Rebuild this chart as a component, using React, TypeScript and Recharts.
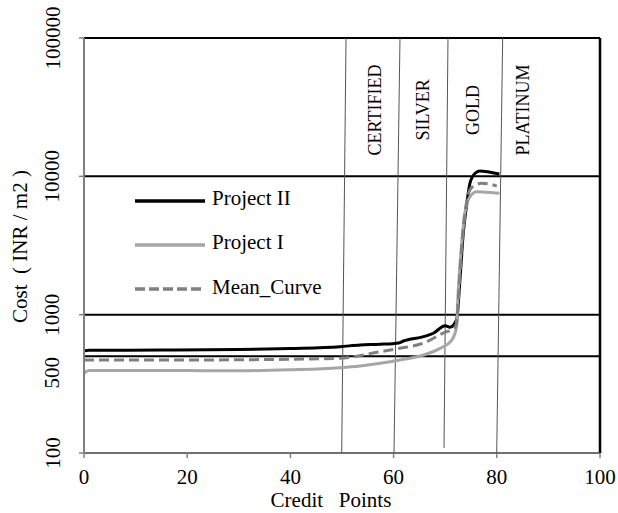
import { LineChart, Line, XAxis, YAxis, ReferenceLine, ReferenceDot, Legend, Label } from "recharts";

const SERIF = '"Liberation Serif", "Times New Roman", serif';

// credit points / cost readings per curve
const projectIIX = [0, 1, 15, 30, 40, 49.6, 53.5, 57.4, 61, 61.9, 65.8, 67.7, 70, 70.9, 72.2, 72.9, 73.5, 74.2, 74.8, 75.8, 76.7, 78.7, 80.5];
const projectIIY = [548, 553, 555, 560, 570, 587, 604, 611, 625, 645, 694, 734, 833, 811, 916, 1883, 3878, 6390, 8913, 10530, 10940, 10700, 10410];

const projectIX = [0, 1, 10, 20, 30, 40, 49.6, 53.5, 57.4, 61.2, 65.8, 69, 71.3, 71.9, 72.2, 72.5, 73.2, 73.8, 74.8, 76.1, 78, 80.5];
const projectIY = [377, 394, 395, 394, 393, 400, 414, 426, 445, 470, 511, 571, 656, 734, 819, 1428, 3283, 5410, 7130, 7750, 7670, 7550];

const meanX = [0, 10, 20, 30, 40, 49.6, 57.4, 61.2, 65.7, 70.3, 71.3, 72.2, 72.7, 73.3, 74, 74.8, 76, 77, 78.5, 80];
const meanY = [470, 470, 470, 472, 476, 484, 540, 571, 621, 754, 775, 860, 1600, 3500, 6000, 8000, 8700, 8900, 8800, 8500];

const X_TICKS = [0, 20, 40, 60, 80, 100];
const Y_TICKS = [100, 500, 1000, 10000, 100000];
const H_LINES = [500, 1000, 10000, 100000];

// rating bands (slightly slanted hand-drawn dividers)
const DIVIDERS = [
  { x0: 49.94, x1: 50.78, y0: 100 },
  { x0: 60.08, x1: 61.24, y0: 100 },
  { x0: 69.77, x1: 70.54, y0: 108.7 },
  { x0: 79.98, x1: 81.14, y0: 100 },
];
const LEVELS = [
  { name: "CERTIFIED", x: 56.4 },
  { name: "SILVER", x: 65.7 },
  { name: "GOLD", x: 75.4 },
  { name: "PLATINUM", x: 85.1 },
];
const LEVEL_Y = 30200;

const LEGEND_ITEMS = [
  { name: "Project II", color: "#000000", width: 3.5, dash: undefined },
  { name: "Project I", color: "#a6a6a6", width: 3.5, dash: undefined },
  { name: "Mean_Curve", color: "#808080", width: 3.5, dash: "10 4" },
];

const toPoints = (xs: number[], ys: number[]) => xs.map((x, i) => ({ x, y: ys[i] }));

function YTick(props: any) {
  const { x, y, payload } = props;
  const v = payload.value;
  const ty = v === 500 ? y + 16.5 : y;
  const tx = x - 26.5;
  return (
    <g>
      {v !== 500 && <line x1={x} x2={x + 5} y1={y} y2={y} stroke="#808080" strokeWidth={1.5} />}
      <text
        x={tx}
        y={ty}
        transform={`rotate(-90, ${tx}, ${ty})`}
        textAnchor="middle"
        dominantBaseline="central"
        fontSize={21}
        fontFamily={SERIF}
        fill="#000"
      >
        {v}
      </text>
    </g>
  );
}

function XTick(props: any) {
  const { x, y, payload } = props;
  return (
    <g>
      <line x1={x} x2={x} y1={y - 5} y2={y} stroke="#808080" strokeWidth={1.5} />
      <text x={x} y={y + 19} textAnchor="middle" dominantBaseline="central" fontSize={21} fontFamily={SERIF} fill="#000">
        {payload.value}
      </text>
    </g>
  );
}

function XTitle(props: any) {
  const vb = props.viewBox;
  return (
    <text
      x={vb.x + vb.width / 2 - 11}
      y={vb.y + 47}
      textAnchor="middle"
      dominantBaseline="central"
      fontSize={21}
      fontFamily={SERIF}
      fill="#000"
      style={{ whiteSpace: "pre" }}
    >
      {"Credit   Points"}
    </text>
  );
}

function YTitle(props: any) {
  const vb = props.viewBox;
  const tx = 20;
  const ty = vb.y + vb.height / 2 + 1;
  return (
    <text
      x={tx}
      y={ty}
      transform={`rotate(-90, ${tx}, ${ty})`}
      textAnchor="middle"
      dominantBaseline="central"
      fontSize={21}
      fontFamily={SERIF}
      fill="#000"
      style={{ whiteSpace: "pre" }}
    >
      {"Cost  ( INR / m2 )"}
    </text>
  );
}

function LegendBox() {
  return (
    <div style={{ fontFamily: SERIF, fontSize: 21, color: "#000" }}>
      {LEGEND_ITEMS.map((it) => (
        <div key={it.name} style={{ display: "flex", alignItems: "center", height: 44.3 }}>
          <svg width={70} height={10} style={{ display: "block" }}>
            <line x1={0} x2={70} y1={5} y2={5} stroke={it.color} strokeWidth={it.width} strokeDasharray={it.dash} />
          </svg>
          <span style={{ marginLeft: 7, lineHeight: 1, position: "relative", top: -2, whiteSpace: "nowrap" }}>{it.name}</span>
        </div>
      ))}
    </div>
  );
}

export default function App() {
  return (
    <div style={{ width: 618, height: 513 }}>
      <style>{`body { margin: 0; }`}</style>
      <LineChart width={618} height={513} margin={{ top: 38, right: 18, bottom: 0, left: 8 }}>
        <XAxis
          dataKey="x"
          type="number"
          domain={[0, 100]}
          ticks={X_TICKS}
          tickSize={5}
          tickMargin={0}
          tickLine={false}
          tick={<XTick />}
          height={60}
          axisLine={{ stroke: "#404040", strokeWidth: 1.5 }}
        >
          <Label content={<XTitle />} />
        </XAxis>
        <YAxis
          type="number"
          scale="log"
          domain={[100, 100000]}
          allowDataOverflow
          ticks={Y_TICKS}
          tickSize={5}
          tickMargin={0}
          tickLine={false}
          tick={<YTick />}
          width={76}
          axisLine={{ stroke: "#808080", strokeWidth: 2 }}
        >
          <Label content={<YTitle />} />
        </YAxis>
        {H_LINES.map((v) => (
          <ReferenceLine key={v} y={v} stroke="#000" strokeWidth={2} />
        ))}
        <ReferenceLine x={100} stroke="#000" strokeWidth={2.5} />
        {DIVIDERS.map((d) => (
          <ReferenceLine
            key={d.x0}
            segment={[
              { x: d.x0, y: d.y0 },
              { x: d.x1, y: 100000 },
            ]}
            stroke="#555"
            strokeWidth={1}
          />
        ))}
        {LEVELS.map((l) => (
          <ReferenceDot key={l.name} x={l.x} y={LEVEL_Y} r={0} fill="none" stroke="none">
            <Label value={l.name} angle={-90} position="center" fontSize={18} fontFamily={SERIF} fill="#000" />
          </ReferenceDot>
        ))}
        <Line
          data={toPoints(projectIIX, projectIIY)}
          dataKey="y"
          name="Project II"
          type="monotone"
          stroke="#000"
          strokeWidth={3}
          dot={false}
          isAnimationActive={false}
        />
        <Line
          data={toPoints(projectIX, projectIY)}
          dataKey="y"
          name="Project I"
          type="monotone"
          stroke="#a6a6a6"
          strokeWidth={3}
          dot={false}
          isAnimationActive={false}
        />
        <Line
          data={toPoints(meanX, meanY)}
          dataKey="y"
          name="Mean_Curve"
          type="monotone"
          stroke="#808080"
          strokeWidth={3}
          strokeDasharray="10 5"
          dot={false}
          isAnimationActive={false}
        />
        <Legend
          layout="vertical"
          align="center"
          verticalAlign="middle"
          content={() => <LegendBox />}
          wrapperStyle={{ left: 135, top: 178.5, width: "auto" }}
        />
      </LineChart>
    </div>
  );
}
